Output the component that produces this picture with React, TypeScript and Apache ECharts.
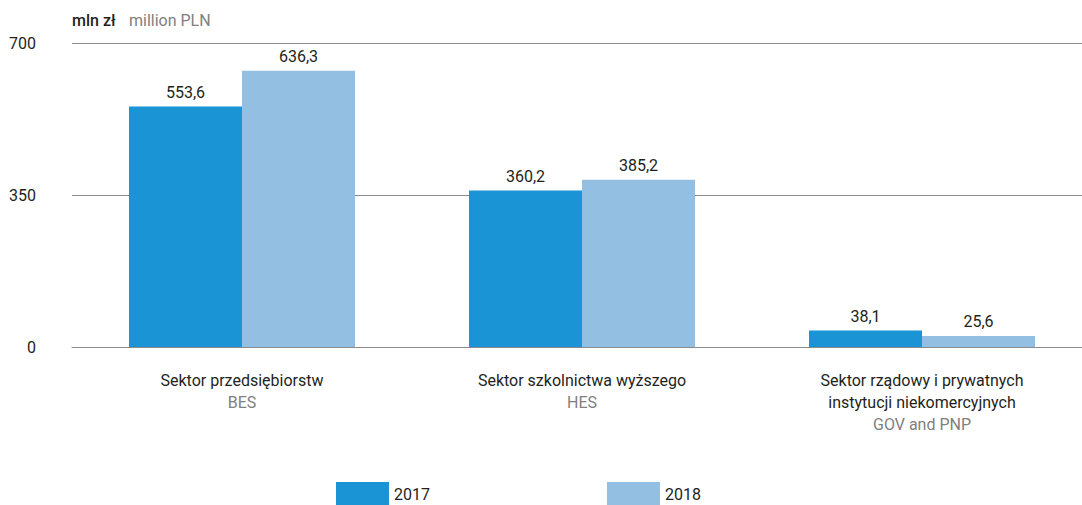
import React, { useEffect, useRef } from "react";
import * as echarts from "echarts";

const categories = [
  "{a|Sektor przedsiębiorstw}\n{b|BES}",
  "{a|Sektor szkolnictwa wyższego}\n{b|HES}",
  "{a|Sektor rządowy i prywatnych}\n{a|instytucji niekomercyjnych}\n{b|GOV and PNP}",
];
const values2017 = [553.6, 360.2, 38.1];
const values2018 = [636.3, 385.2, 25.6];
const seriesNames = ["2017", "2018"];
const yTicks = { min: 0, max: 700, interval: 350 };

const FONT = "Roboto, 'DejaVu Sans Condensed', sans-serif";
const DARK = "#231f20";
const GREY = "#808080";

export default function App() {
  const ref = useRef<HTMLDivElement>(null);
  useEffect(() => {
    document.body.style.margin = "0";
    const chart = echarts.init(ref.current!, null, { renderer: "svg" });
    const labelFmt = (p: any) => String(p.value).replace(".", ",");
    chart.setOption({
      animation: false,
      textStyle: { fontFamily: FONT },
      grid: { left: 72, width: 1020, top: 43, bottom: 158, outerBoundsMode: "none", containLabel: false },
      title: {
        text: "{a|mln zł}   {b|million PLN}",
        left: 72,
        top: 11,
        padding: 0,
        textStyle: {
          rich: {
            a: { fontFamily: FONT, fontSize: 16, color: DARK, fontWeight: 500 },
            b: { fontFamily: FONT, fontSize: 16, color: GREY, fontWeight: "normal" },
          },
        },
      },
      legend: {
        left: 336,
        top: 482,
        padding: 0,
        itemWidth: 53,
        itemHeight: 24,
        itemGap: 177,
        icon: "rect",
        textStyle: { fontFamily: FONT, fontSize: 16, color: DARK, padding: [6, 0, 0, 0] },
        data: seriesNames,
      },
      xAxis: {
        type: "category",
        data: categories,
        axisTick: { show: false },
        axisLine: { show: true, lineStyle: { color: "#8a8a8a", width: 1 } },
        axisLabel: {
          margin: 22,
          rich: {
            a: { fontFamily: FONT, fontSize: 16, color: DARK, lineHeight: 22 },
            b: { fontFamily: FONT, fontSize: 16, color: GREY, lineHeight: 22 },
          },
        },
      },
      yAxis: {
        type: "value",
        min: yTicks.min,
        max: yTicks.max,
        interval: yTicks.interval,
        axisLine: { show: false },
        axisTick: { show: false },
        splitLine: { lineStyle: { color: "#8a8a8a", width: 1 } },
        axisLabel: { margin: 36, fontFamily: FONT, fontSize: 16, color: DARK },
      },
      series: [
        {
          name: seriesNames[0],
          type: "bar",
          data: values2017,
          barWidth: 113,
          barGap: "0%",
          itemStyle: { color: "#1a94d4" },
          label: { show: true, position: "top", distance: 6, formatter: labelFmt, fontFamily: FONT, fontSize: 16, color: DARK },
        },
        {
          name: seriesNames[1],
          type: "bar",
          data: values2018,
          barWidth: 113,
          barGap: "0%",
          itemStyle: { color: "#93bfe3" },
          label: { show: true, position: "top", distance: 6, formatter: labelFmt, fontFamily: FONT, fontSize: 16, color: DARK },
        },
      ],
    });
    return () => chart.dispose();
  }, []);
  return <div ref={ref} style={{ width: 1082, height: 505 }} />;
}
